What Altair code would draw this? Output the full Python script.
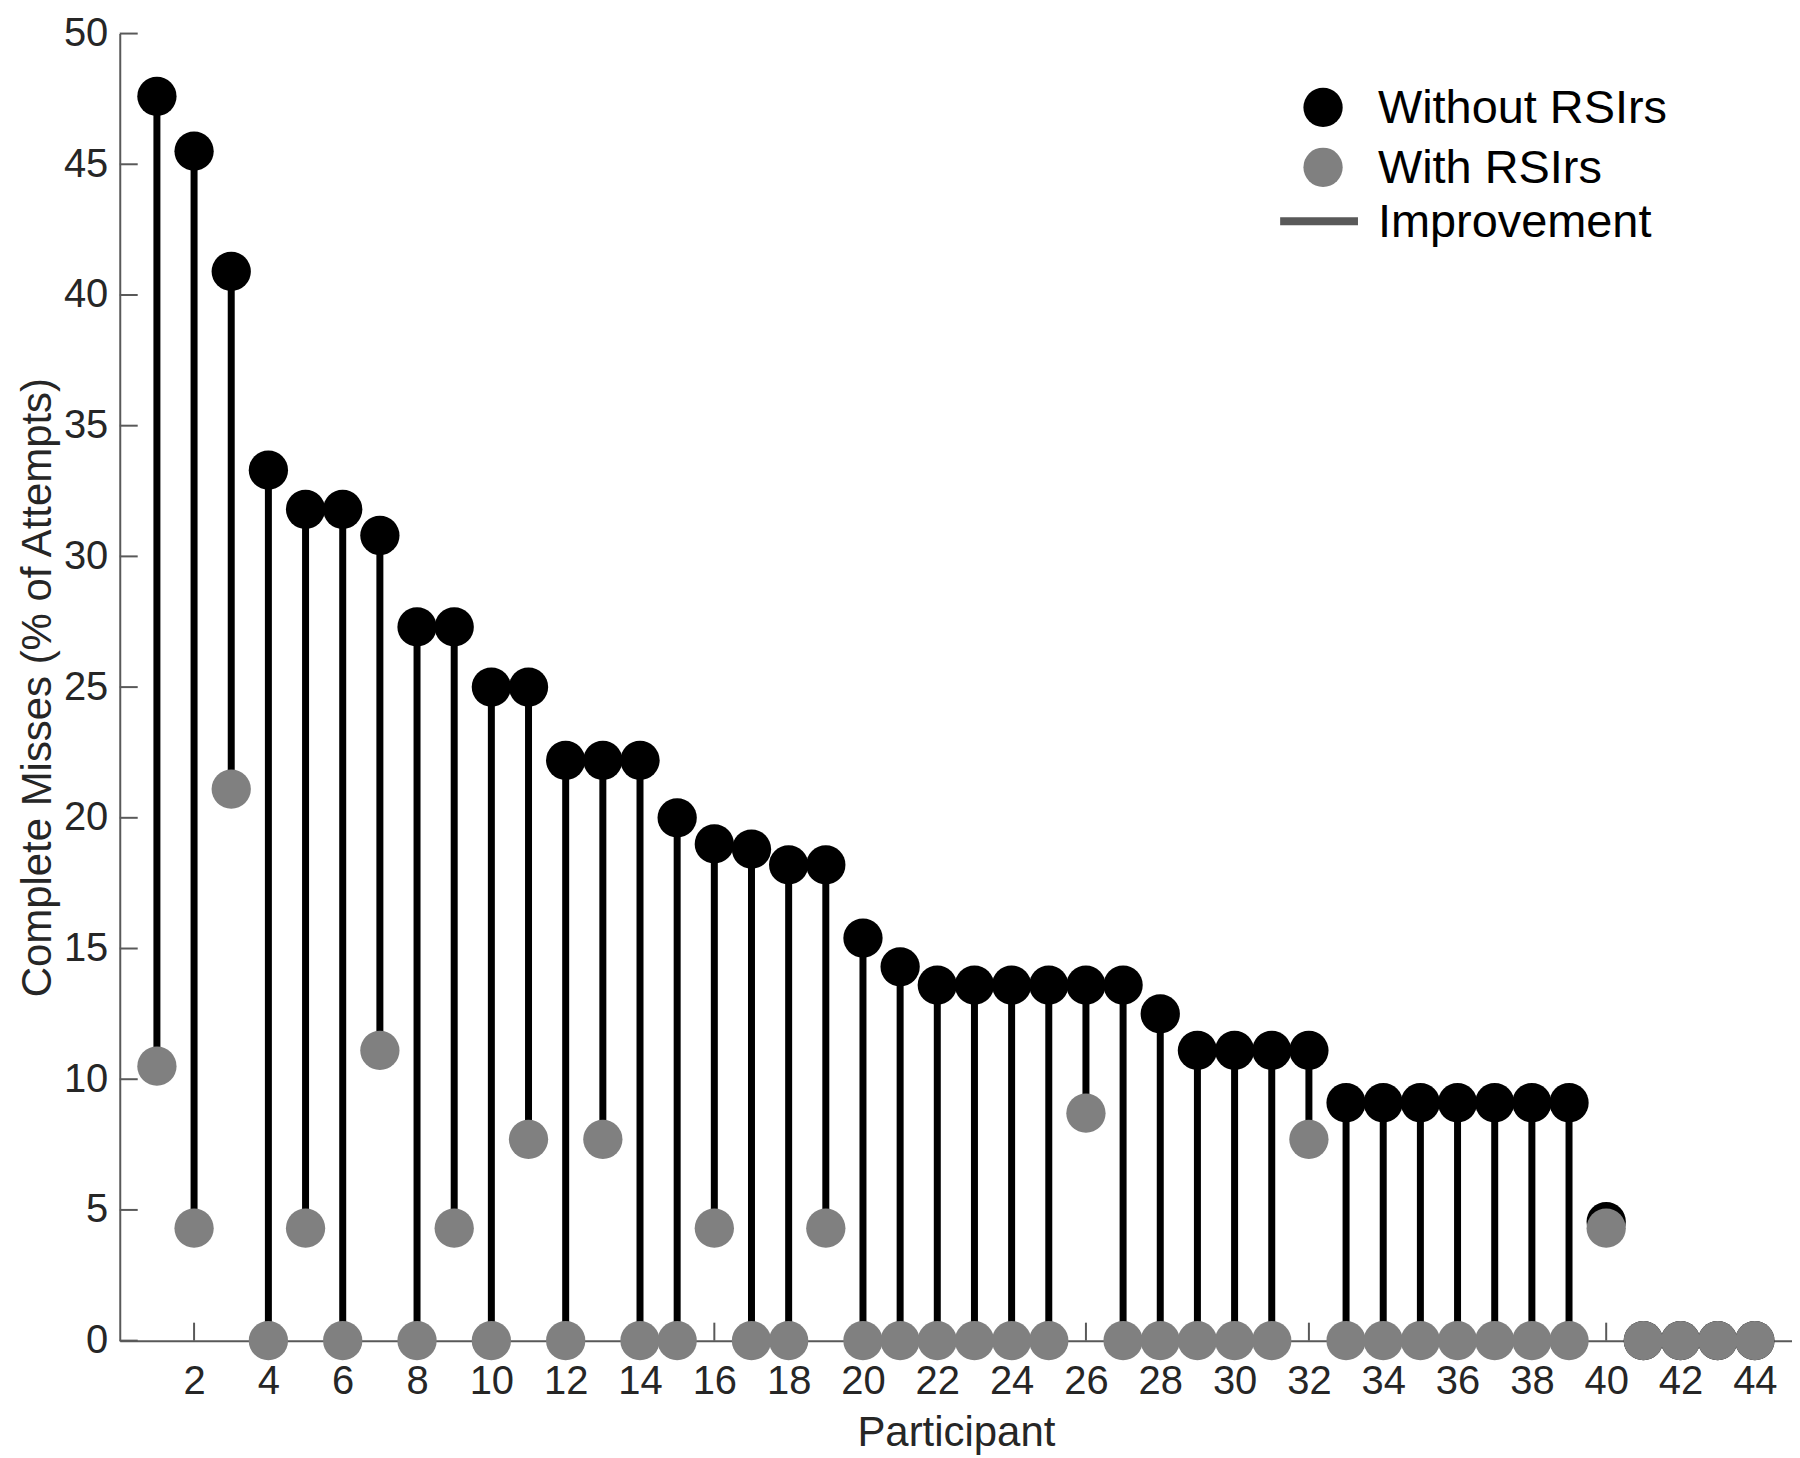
import altair as alt
import pandas as pd

participants = list(range(1, 45))
without_rsirs = [47.6, 45.5, 40.9, 33.3, 31.8, 31.8, 30.8, 27.3, 27.3, 25.0,
                 25.0, 22.2, 22.2, 22.2, 20.0, 19.0, 18.8, 18.2, 18.2, 15.4,
                 14.3, 13.6, 13.6, 13.6, 13.6, 13.6, 13.6, 12.5, 11.1, 11.1,
                 11.1, 11.1, 9.1, 9.1, 9.1, 9.1, 9.1, 9.1, 9.1, 4.55,
                 0, 0, 0, 0]
with_rsirs = [10.5, 4.3, 21.1, 0, 4.3, 0, 11.1, 0, 4.3, 0,
              7.7, 0, 7.7, 0, 0, 4.3, 0, 0, 4.3, 0,
              0, 0, 0, 0, 0, 8.7, 0, 0, 0, 0,
              0, 7.7, 0, 0, 0, 0, 0, 0, 0, 4.3,
              0, 0, 0, 0]
y_ticks = [0, 5, 10, 15, 20, 25, 30, 35, 40, 45, 50]
x_ticks = list(range(2, 45, 2))
legend_labels = ["Without RSIrs", "With RSIrs", "Improvement"]

df = pd.DataFrame({"p": participants, "without": without_rsirs, "with": with_rsirs})
yt = pd.DataFrame({"v": y_ticks})
xt = pd.DataFrame({"v": x_ticks})

W, H = 1676, 1310
FONT = "Liberation Sans"
AX = "#595959"
MS = 1550
x_scale = alt.Scale(domain=[0, 45], nice=False, zero=False)
y_scale = alt.Scale(domain=[0, 50], nice=False)

x_axis = alt.Axis(values=x_ticks, title="Participant", grid=False, ticks=False, tickSize=0,
                  labelPadding=21, titlePadding=11, labelFontSize=40, titleFontSize=42)
y_axis = alt.Axis(values=y_ticks, title="Complete Misses (% of Attempts)", grid=False,
                  ticks=False, tickSize=0, labelPadding=12, titlePadding=4,
                  labelFontSize=40, titleFontSize=42)

base = alt.Chart(df)
stems = base.mark_rule(color="black", strokeWidth=7, strokeCap="butt").encode(
    x=alt.X("p:Q", scale=x_scale, axis=x_axis),
    y=alt.Y("without:Q", scale=y_scale, axis=y_axis),
    y2="with:Q",
)
black_pts = base.mark_point(filled=True, shape="circle", size=MS, color="black", opacity=1).encode(
    x=alt.X("p:Q", scale=x_scale), y=alt.Y("without:Q", scale=y_scale))
grey_pts = base.mark_point(filled=True, shape="circle", size=MS, color="#808080", opacity=1).encode(
    x=alt.X("p:Q", scale=x_scale), y=alt.Y("with:Q", scale=y_scale))

ytick_marks = alt.Chart(yt).mark_rule(color=AX, strokeWidth=2).encode(
    y=alt.Y("v:Q", scale=y_scale), x=alt.value(0), x2=alt.value(18))
xtick_marks = alt.Chart(xt).mark_rule(color=AX, strokeWidth=2).encode(
    x=alt.X("v:Q", scale=x_scale), y=alt.value(H), y2=alt.value(H - 18))

leg = pd.DataFrame({"label": legend_labels})
leg_black = alt.Chart(leg.iloc[[0]]).mark_point(filled=True, shape="circle", size=MS, color="black", opacity=1).encode(
    x=alt.value(1206), y=alt.value(74))
leg_grey = alt.Chart(leg.iloc[[1]]).mark_point(filled=True, shape="circle", size=MS, color="#808080", opacity=1).encode(
    x=alt.value(1206), y=alt.value(134))
leg_line = alt.Chart(leg.iloc[[2]]).mark_rule(color="#595959", strokeWidth=8).encode(
    x=alt.value(1163), x2=alt.value(1241), y=alt.value(188))
leg_t1 = alt.Chart(leg.iloc[[0]]).mark_text(align="left", baseline="middle", font=FONT, fontSize=47, color="black").encode(
    x=alt.value(1261), y=alt.value(76), text="label:N")
leg_t2 = alt.Chart(leg.iloc[[1]]).mark_text(align="left", baseline="middle", font=FONT, fontSize=47, color="black").encode(
    x=alt.value(1261), y=alt.value(136), text="label:N")
leg_t3 = alt.Chart(leg.iloc[[2]]).mark_text(align="left", baseline="middle", font=FONT, fontSize=47, color="black").encode(
    x=alt.value(1261), y=alt.value(190), text="label:N")

chart = alt.layer(
    stems, ytick_marks, xtick_marks, black_pts, grey_pts,
    leg_black, leg_grey, leg_line, leg_t1, leg_t2, leg_t3,
).properties(
    width=W, height=H,
    autosize=alt.AutoSizeParams(type="none"),
    padding={"left": 112, "top": 24, "right": 0, "bottom": 114},
).configure_view(stroke=None).configure_axis(
    domainColor=AX, domainWidth=2, labelFont=FONT, titleFont=FONT,
    labelColor="#262626", titleColor="#262626", titleFontWeight="normal",
)

chart.save("out.html", embed_options={"renderer": "svg", "actions": False})
